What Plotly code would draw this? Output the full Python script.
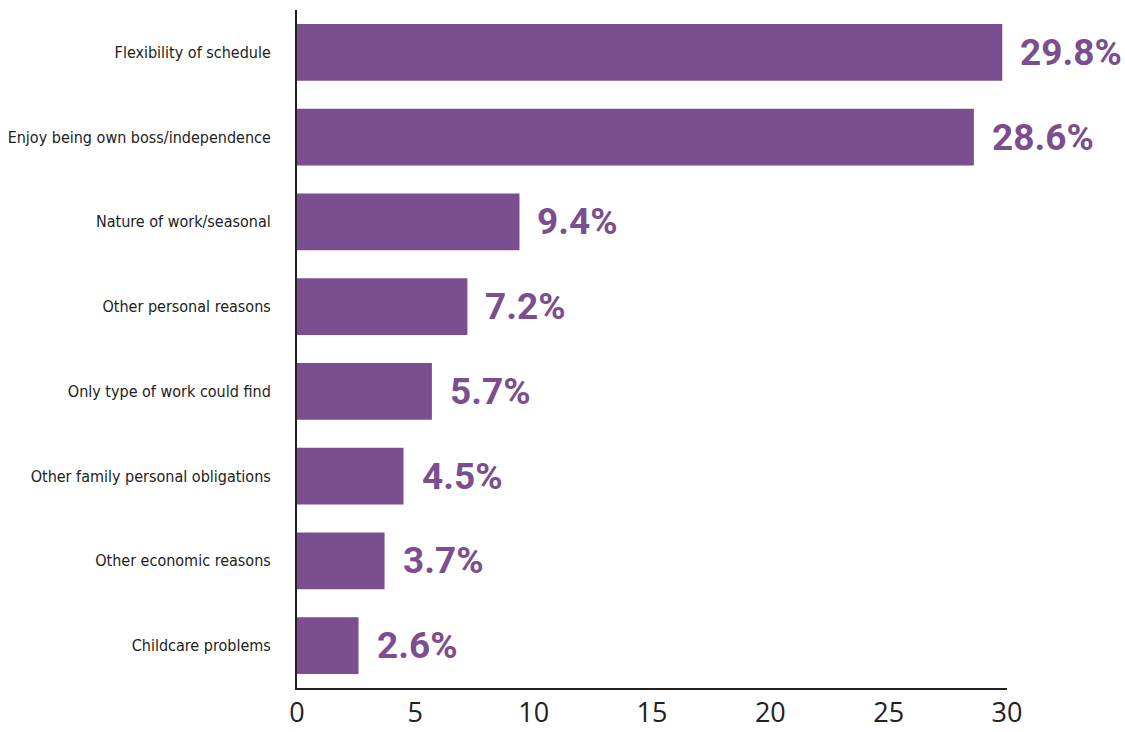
import plotly.graph_objects as go

categories = [
    "Flexibility of schedule",
    "Enjoy being own boss/independence",
    "Nature of work/seasonal",
    "Other personal reasons",
    "Only type of work could find",
    "Other family personal obligations",
    "Other economic reasons",
    "Childcare problems",
]
values = [29.8, 28.6, 9.4, 7.2, 5.7, 4.5, 3.7, 2.6]
value_labels = ["29.8%", "28.6%", "9.4%", "7.2%", "5.7%", "4.5%", "3.7%", "2.6%"]
x_ticks = [0, 5, 10, 15, 20, 25, 30]

purple = "#7B4F8F"

fig = go.Figure()
fig.add_trace(go.Bar(
    x=values, y=categories, orientation="h",
    marker=dict(color=purple, line=dict(width=0)),
    width=0.67, hoverinfo="skip",
))

for v, c, t in zip(values, categories, value_labels):
    fig.add_annotation(
        x=v, y=c, text=t, showarrow=False, xanchor="left", xshift=16,
        font=dict(family="Roboto", size=37, color=purple, weight="bold"),
    )

fig.update_layout(
    width=1125, height=732,
    margin=dict(l=297, r=118, t=10, b=44),
    paper_bgcolor="white", plot_bgcolor="white",
    showlegend=False,
)
fig.update_xaxes(
    range=[0, 30], tickvals=x_ticks, ticktext=[str(v) for v in x_ticks],
    showgrid=False, zeroline=False, showline=True, linecolor="#222", linewidth=2,
    ticks="", ticklabelstandoff=0, automargin=False,
    tickfont=dict(family="Open Sans", size=27, color="#222"),
)
fig.update_yaxes(
    categoryorder="array", categoryarray=categories[::-1],
    range=[-0.5, 7.5],
    showgrid=False, zeroline=False, showline=True, linecolor="#222", linewidth=2,
    ticks="", ticklabelstandoff=21, automargin=False,
    tickfont=dict(family="DejaVu Sans Condensed, Liberation Sans Narrow, sans-serif", size=16, color="#222"),
)

fig.write_html("out.html", post_script="document.body.style.margin='0';",
               config={"displayModeBar": False})
